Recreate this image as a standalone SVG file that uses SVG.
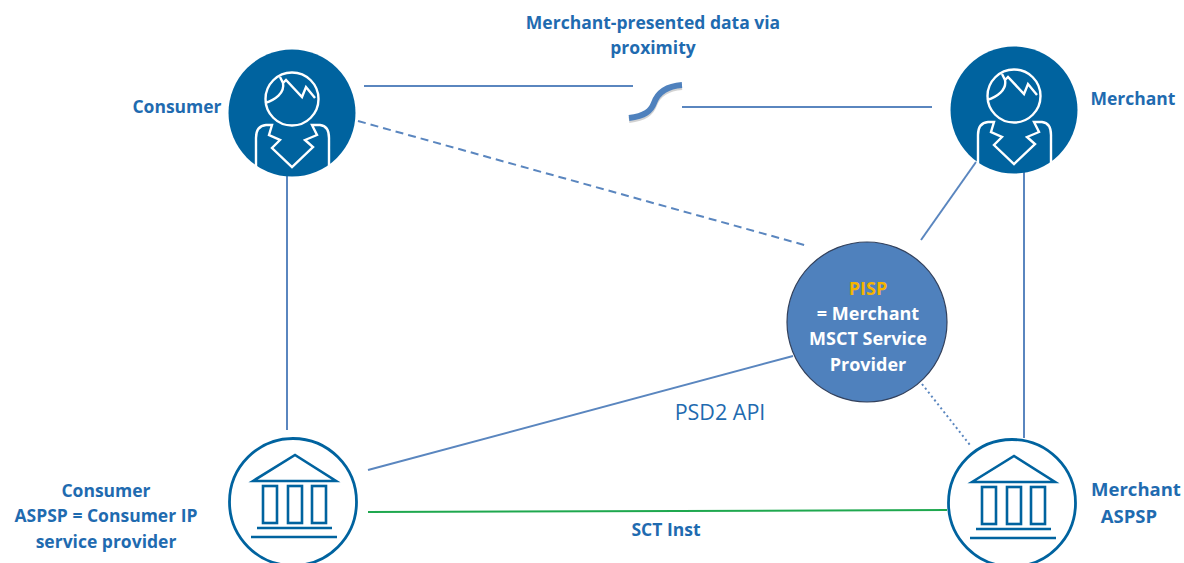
<svg xmlns="http://www.w3.org/2000/svg" width="1184" height="563" viewBox="0 0 1184 563">
<style>
text{font-family:"Open Sans","Noto Sans","Liberation Sans",sans-serif;font-weight:700;font-size:17.5px;fill:#1f6bb0;text-anchor:middle}
.c{fill:none;stroke:#5a86bf;stroke-width:2}
.w{fill:none;stroke:#fff;stroke-width:2.4;stroke-linejoin:miter}
.b{fill:none;stroke:#00639f;stroke-width:2.6}
.pt{fill:#fff;font-size:18px}
.big{font-size:18.5px}
</style>
<defs>
<g id="person">
<circle r="63.5" fill="#00639f"/>
<g class="w">
<circle cx="0" cy="-14" r="26.5"/>
<path d="M-27 -10C-17 -13 -7 -20 -9 -30L-12 -36M-9 -30L-6 -33L10 -16L14 -26L23 -15"/>
<path d="M-36 54V25Q-36 13 -26 12H-20L-23 22L-12 27L-20 35L0 54L21 34L13 27L25 22L20 12H28Q37 13 37 25V54"/>
</g>
</g>
<g id="bank">
<circle r="63.5" fill="#fff" stroke="#00639f" stroke-width="2.8"/>
<g class="b">
<path d="M-40 -21L2 -47L43 -21Z"/>
<rect x="-30" y="-16" width="14" height="37"/>
<rect x="-5" y="-16" width="14" height="37"/>
<rect x="19" y="-16" width="14" height="37"/>
<path d="M-36 26H39M-42 35H44"/>
</g>
</g>
</defs>
<rect width="1184" height="563" fill="#fff"/>
<g id="connectors">
<path class="c" d="M364 86L633 86"/>
<path class="c" d="M682 107L932 107"/>
<path d="M629 120C645 118 651 113 654 105C658 94 668 88 682 87" fill="none" stroke="#7f7f7f" stroke-opacity=".35" stroke-width="6"/>
<path d="M629 118C645 116 651 111 654 103C658 92 668 86 682 85" fill="none" stroke="#4f81bd" stroke-width="6"/>
<path class="c" stroke-dasharray="8 5" d="M358 121L808 246"/>
<path class="c" d="M287 175V430"/>
<path class="c" d="M1024 172V438"/>
<path class="c" d="M976 162L921 240"/>
<path class="c" d="M368 470L793 356"/>
<path class="c" stroke-dasharray="2 3" d="M922 384L970 445"/>
<path d="M368 512L947 510" fill="none" stroke="#1fa84f" stroke-width="2"/>
</g>
<g id="consumer"><use href="#person" x="292" y="113"/><text x="177" y="113">Consumer</text></g>
<g id="merchant"><use href="#person" x="1014" y="110"/><text x="1133" y="105">Merchant</text></g>
<g id="consumer-aspsp"><use href="#bank" x="293" y="502"/><text x="106" y="497">Consumer</text><text x="106" y="522">ASPSP = Consumer IP</text><text x="106" y="548">service provider</text></g>
<g id="merchant-aspsp"><use href="#bank" x="1012" y="503"/><text class="big" x="1136" y="496">Merchant</text><text class="big" x="1129" y="523">ASPSP</text></g>
<g id="pisp">
<circle cx="867" cy="322" r="80" fill="#4f81bd" stroke="#33415c" stroke-width="1.2"/>
<text class="pt" x="868" y="295" style="fill:#f5b400">PISP</text>
<text class="pt" x="868" y="320">= Merchant</text>
<text class="pt" x="868" y="345">MSCT Service</text>
<text class="pt" x="868" y="371">Provider</text>
</g>
<g id="labels">
<text x="653" y="29">Merchant-presented data via</text>
<text x="653" y="54">proximity</text>
<text x="720" y="420" style="font-weight:400;font-size:21.5px">PSD2 API</text>
<text x="666" y="536">SCT Inst</text>
</g>
</svg>
